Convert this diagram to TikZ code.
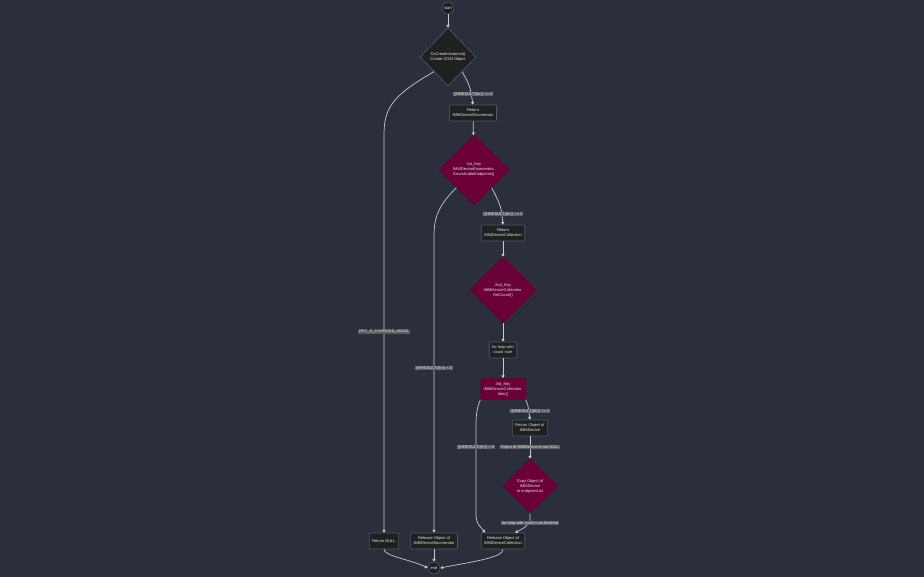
\documentclass[tikz,border=0pt]{standalone}
\usepackage{fontspec}
\setmainfont{Liberation Sans}
\usetikzlibrary{shapes.geometric,arrows.meta}

\definecolor{bgcol}{HTML}{2A2F3B}
\definecolor{boxfill}{HTML}{1F2020}
\definecolor{boxline}{HTML}{4D5B6B}
\definecolor{keyfill}{HTML}{6B0038}
\definecolor{lblfill}{HTML}{5A5C60}
\definecolor{linecol}{HTML}{C8CBD0}
\definecolor{txt}{HTML}{E6E6E6}

\newcommand{\tinyfont}{\fontsize{4}{5}\selectfont}

\tikzset{
  box/.style={draw=boxline, fill=boxfill, text=txt, line width=0.6pt, rounded corners=0.8pt,
    minimum height=16pt, inner xsep=3pt, inner ysep=1.5pt, align=center, font=\tinyfont},
  keybox/.style={box, fill=keyfill, draw=keyfill, minimum height=21pt},
  decide/.style={diamond, draw=boxline, fill=boxfill, text=txt, line width=0.6pt, inner sep=0pt,
    align=center, font=\tinyfont},
  keydecide/.style={decide, fill=keyfill, draw=keyfill},
  term/.style={circle, draw=boxline, fill=boxfill, text=txt, line width=0.6pt, inner sep=0pt,
    minimum size=12pt, font=\tinyfont},
  lbl/.style={fill=lblfill, text=txt, inner xsep=0.8pt, inner ysep=0.6pt, font=\tinyfont},
  flow/.style={draw=linecol, line width=0.7pt, -{Triangle[length=2.8pt,width=3pt]}},
}

\begin{document}
\begin{tikzpicture}[x=1pt, y=-1pt]
\fill[bgcol] (0,0) rectangle (924,577);
\useasboundingbox (0,0) rectangle (924,577);

% nodes
\node[term] (start) at (448,8) {start};
\node[decide, minimum width=56pt, minimum height=58pt] (cocreate) at (448,57) {CoCreateInstance()\\Create COM Object};
\node[box] (retenum) at (473,113) {Return\\IMMDeviceEnumerator};
\node[keydecide, minimum width=70pt, minimum height=70pt] (key1) at (474,170) {1st\_Key\\IMMDeviceEnumerator.\\EnumAudioEndpoints()};
\node[box] (retcoll) at (503,233) {Return\\IMMDeviceCollection};
\node[keydecide, minimum width=66pt, minimum height=66pt] (key2) at (503,290) {2nd\_Key\\IMMDeviceCollection.\\GetCount()};
\node[box] (loop) at (503,350) {for loop with\\count num};
\node[keybox] (key3) at (503,389) {3rd\_Key\\IMMDeviceCollection.\\Item()};
\node[box] (retdev) at (530,428) {Return Object of\\IMMDevice};
\node[keydecide, minimum width=55pt, minimum height=54pt] (copy) at (530,486) {Copy Object of\\IMMDevice\\to endpointList};
\node[box] (retnull) at (384,541) {Return NULL};
\node[box] (relenum) at (434,541) {Release Object of\\IMMDeviceEnumerator};
\node[box] (relcoll) at (503,541) {Release Object of\\IMMDeviceCollection};
\node[term] (end) at (434,568) {end};

% connectors
\draw[flow] (start) -- (cocreate);
\draw[flow] (cocreate.south east) .. controls (470,86) .. (retenum.north);
\draw[flow] (cocreate.south west) .. controls (392,96) and (384,108) .. (384,135) -- (retnull.north);
\draw[flow] (retenum) -- (key1);
\draw[flow] (key1.south east) .. controls (501,206) .. (retcoll.north);
\draw[flow] (key1.south west) .. controls (440,204) and (434,216) .. (434,235) -- (relenum.north);
\draw[flow] (retcoll) -- (key2);
\draw[flow] (key2) -- (loop);
\draw[flow] (loop) -- (key3);
\draw[flow] (key3.south east) .. controls (528,405) .. (retdev.north);
\draw[flow] (retdev) -- (copy);
\draw[flow] (copy.south) -- (530,521) .. controls (526,527) .. ([xshift=12pt]relcoll.north);
\draw[flow] (key3.south west) .. controls (478,405) and (476,412) .. (476,425) -- (476,515) .. controls (476,525) and (482,528) .. ([xshift=-18pt]relcoll.north);
\draw[flow] (retnull.south) .. controls (384,556) and (412,560) .. (end.west);
\draw[flow] (relenum) -- (end);
\draw[flow] (relcoll.south) .. controls (503,558) and (470,562) .. (end.east);

% edge labels
\node[lbl] (l1) at (473,94) {((HRESULT)(hr)) >= 0};
\node[lbl] (l2) at (384,332) {RPC\_E\_CHANGED\_MODE};
\node[lbl] (l3) at (503,214) {((HRESULT)(hr)) >= 0};
\node[lbl] (l4) at (434,368) {((HRESULT)(hr)) < 0};
\node[lbl] (l5) at (530,411) {((HRESULT)(hr)) >= 0};
\node[lbl] (l6) at (530,447) {Object of IMMDevice is not NULL};
\node[lbl] (l7) at (476,447) {((HRESULT)(hr)) < 0};
\node[lbl] (l8) at (530,523) {for loop with count num finished};

\end{tikzpicture}
\end{document}
